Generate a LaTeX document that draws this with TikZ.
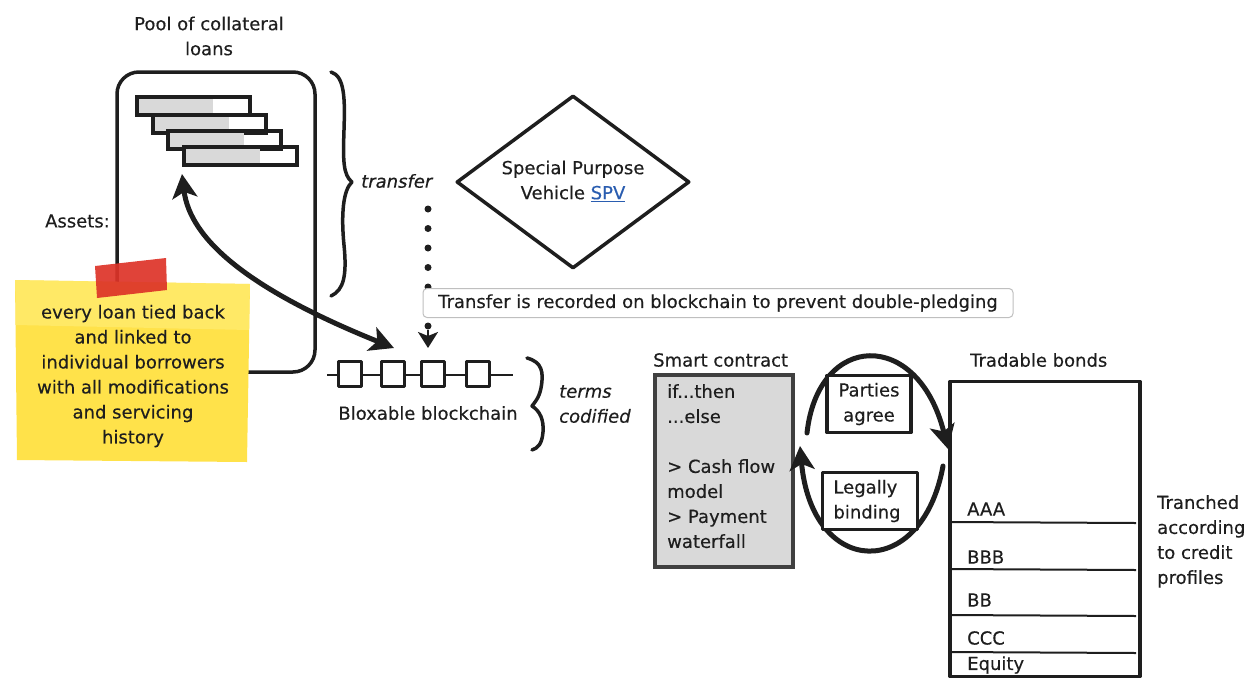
\documentclass[tikz,border=0pt]{standalone}
\usepackage{fontspec}
\setmainfont{DejaVu Sans}[FakeBold=0.35]
\usetikzlibrary{arrows.meta,shapes.geometric,calc}
\definecolor{ink}{HTML}{1E1E1E}
\definecolor{note}{HTML}{FFE24A}
\definecolor{notelight}{HTML}{FFEE7A}
\definecolor{tape}{HTML}{DD3328}
\definecolor{boxgray}{HTML}{D9D9D9}
\definecolor{linkblue}{HTML}{2A5DB0}
\tikzset{
  bigtip/.tip={Stealth[length=24pt,width=25pt,inset=6pt]},
  smalltip/.tip={Stealth[length=16pt,width=20pt,inset=4pt]}
}
\begin{document}
\begin{tikzpicture}[x=1pt,y=-1pt,
  txt/.style={font=\fontsize{18}{25}\selectfont, text=ink, inner sep=0pt},
  itxt/.style={txt, font=\fontsize{18}{25}\selectfont\itshape},
  sketch/.style={line width=3.5pt, draw=ink, line join=round, line cap=round},
  thickarrow/.style={line width=5pt, draw=ink, line cap=round},
  bar/.style={line width=3.5pt, draw=ink},
  tranche/.style={line width=2pt, draw=ink}]
\useasboundingbox (0,0) rectangle (1256,681);

% --- pool of collateral loans ---
\node[txt, align=center] (pooltitle) at (209,36) {Pool of collateral\\loans};
\node[sketch, draw, rounded corners=22pt, minimum width=198pt, minimum height=300pt] (pool) at (216,222) {};
\foreach \i/\x/\y in {1/137/97, 2/153/115, 3/168/131, 4/184/147} {
  \fill[boxgray] (\x,\y) rectangle (\x+76,\y+18);
  \draw[bar] (\x,\y) rectangle (\x+113,\y+18);
  \coordinate (loan\i) at (\x+56,\y+18);
}

% transfer brace
\draw[sketch] (331,72) .. controls (345,76) and (345,100) .. (344,130)
  .. controls (343,160) and (343,175) .. (352,182)
  .. controls (343,190) and (341,215) .. (344,245)
  .. controls (347,275) and (344,290) .. (331,296);
\node[itxt, anchor=west] (transfer) at (361,181) {transfer};

% --- special purpose vehicle ---
\node[diamond, sketch, draw, fill=white, minimum width=233pt, minimum height=173pt, aspect=1.35, inner sep=0pt] (spv) at (573,182) {};
\node[txt, align=center] (spvtext) at (573,181) {Special Purpose\\Vehicle \textcolor{linkblue}{\underline{SPV}}};

% --- assets sticky note ---
\node[txt, anchor=east] (assets) at (110,221) {Assets:};
\fill[note] (15,280) -- (250,284) -- (247,462) -- (17,460) -- cycle;
\fill[notelight, opacity=0.6] (15,280) -- (250,284) -- (249,330) -- (16,325) -- cycle;
\fill[tape, opacity=0.92] (95,266) -- (166,258) -- (167,290) -- (97,298) -- cycle;
\node[txt, align=center] (notetext) at (133,376) {every loan tied back\\and linked to\\individual borrowers\\with all modifications\\and servicing\\history};

% --- blockchain ---
\coordinate (chainL) at (327,375);
\coordinate (chainR) at (513,375);
\draw[line width=2.2pt, draw=ink] (chainL) -- (chainR);
\foreach \i/\x in {1/350, 2/393, 3/433, 4/478} {
  \node[sketch, draw, fill=white, minimum width=23pt, minimum height=25pt, inner sep=0pt] (blk\i) at (\x,374) {};
}
\node[txt] (chaintitle) at (428,413) {Bloxable blockchain};

% double-headed arrow between loans and blockchain
\coordinate (arrowA) at (182,174);
\coordinate (arrowB) at (394,348);
\draw[thickarrow, bigtip-bigtip]
  (arrowA) .. controls (190,240) and (250,290) .. (arrowB);

% dotted transfer line to the blockchain
\coordinate (dotTop) at (428,209);
\coordinate (dotEnd) at (428,348);
\draw[line width=7pt, draw=ink, line cap=round, dash pattern=on 0pt off 19.5pt] (dotTop) -- (428,330);
\draw[line width=2.5pt, draw=ink, -smalltip] (428,330) -- (dotEnd);
\node[draw=black!25, line width=1pt, fill=white, rounded corners=4pt, minimum width=590pt, minimum height=29pt, inner sep=0pt] (record) at (718,303) {};
\node[txt] (recordtext) at (718,303) {Transfer is recorded on blockchain to prevent double-pledging};

% terms brace
\draw[sketch] (527,358) .. controls (542,362) and (544,372) .. (541,388)
  .. controls (539,398) and (535,402) .. (532,406)
  .. controls (540,411) and (544,420) .. (543,432)
  .. controls (542,444) and (538,448) .. (532,450);
\node[itxt, align=left, anchor=west] (terms) at (559,404) {terms\\codified};

% --- smart contract ---
\node[txt, anchor=west] (sctitle) at (653,360) {Smart contract};
\node[line width=3.5pt, draw=black!75, fill=boxgray, minimum width=138pt, minimum height=192pt, inner sep=0pt] (sc) at (724,471) {};
\node[txt, align=left, anchor=north west] (sctext) at (667,384) {if...then\\...else\\[25pt]> Cash flow\\model\\> Payment\\waterfall};

% agreement cycle
\coordinate (upStart) at (807,433);
\coordinate (upEnd) at (948,449);
\coordinate (loStart) at (943,466);
\coordinate (loEnd) at (800,446);
\draw[thickarrow, -bigtip] (upStart) .. controls (818,332) and (918,328) .. (upEnd);
\draw[thickarrow, -bigtip] (loStart) .. controls (922,582) and (812,578) .. (loEnd);
\node[sketch, draw, fill=white, minimum width=84pt, minimum height=57pt, inner sep=0pt] (agree) at (869,404) {};
\node[txt, align=center] (agreetext) at (869,404) {Parties\\agree};
\node[sketch, draw, fill=white, minimum width=95pt, minimum height=57pt, inner sep=0pt] (legal) at (870,501) {};
\node[txt, align=left] (legaltext) at (867,501) {Legally\\binding};

% --- tradable bonds ---
\node[txt, anchor=west] (bondtitle) at (970,360) {Tradable bonds};
\node[sketch, draw, minimum width=190pt, minimum height=295pt, inner sep=0pt] (bonds) at (1045,529) {};
\foreach \y in {522, 569, 615, 652} {
  \draw[tranche] (bonds.west |- 0,\y) -- (1136,\y+1);
}
\node[txt, anchor=west] (aaa) at (967,509) {AAA};
\node[txt, anchor=west] (bbb) at (967,557) {BBB};
\node[txt, anchor=west] (bb) at (967,600) {BB};
\node[txt, anchor=west] (ccc) at (967,638) {CCC};
\node[txt, anchor=west] (equity) at (967,665) {Equity};
\node[txt, align=left, anchor=north west] (tranched) at (1157,495) {Tranched\\according\\to credit\\profiles};
\end{tikzpicture}
\end{document}
